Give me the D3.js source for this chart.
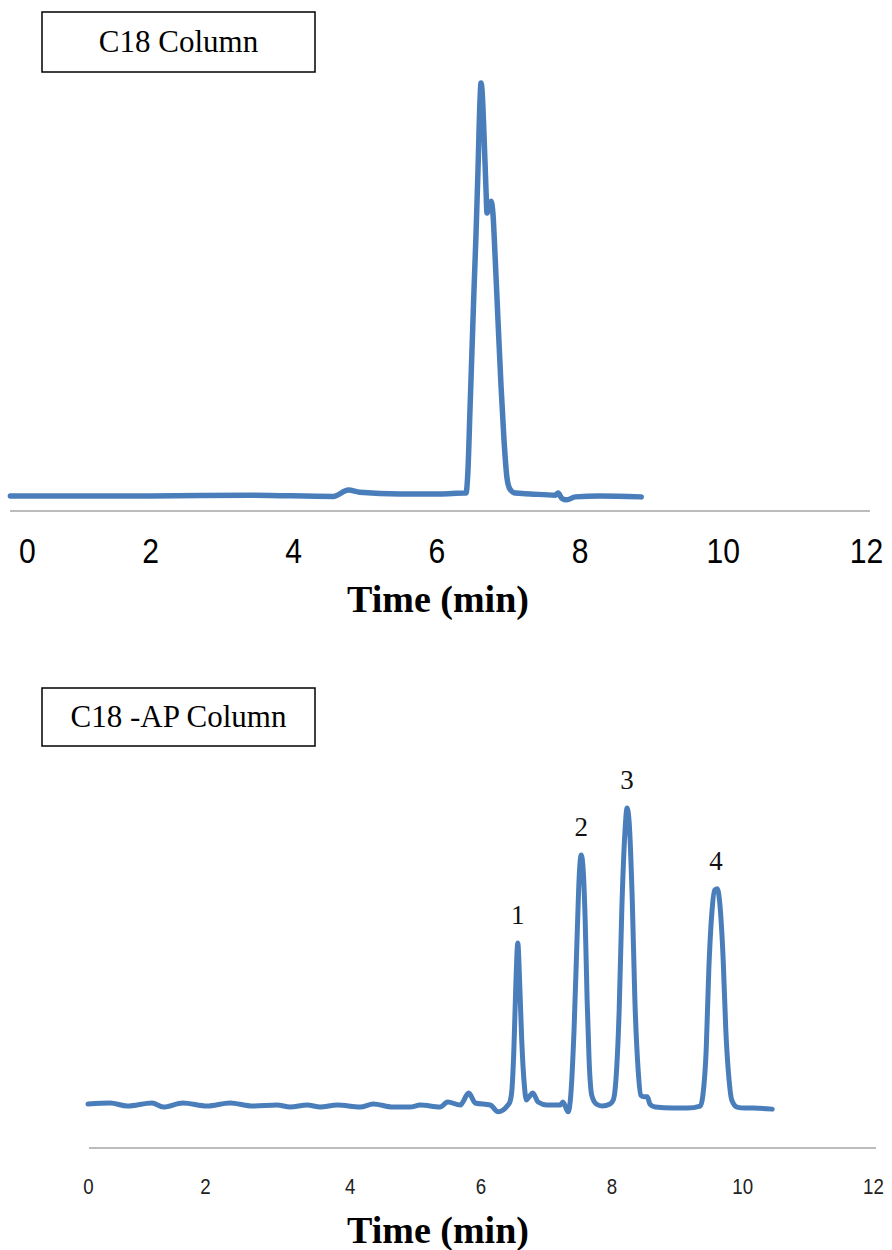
<!DOCTYPE html>
<html>
<head>
<meta charset="utf-8">
<script src="https://cdn.jsdelivr.net/npm/d3@7/dist/d3.min.js"></script>
<style>
  html, body { margin: 0; padding: 0; background: #ffffff; }
  svg { display: block; }
</style>
</head>
<body>
<svg id="chart" width="892" height="1250"></svg>
<script>
// ---------- DATA ----------
const xTicks = [0, 2, 4, 6, 8, 10, 12];

// C18 Column chromatogram (time in min, relative signal)
const c18Time = [0.05, 2.00, 3.40, 4.56, 4.77, 4.93, 5.49, 6.05, 6.39,
  6.413, 6.441, 6.469, 6.497, 6.525, 6.553, 6.581, 6.609, 6.623,
  6.637, 6.665, 6.693, 6.707, 6.735, 6.763, 6.791, 6.819, 6.860, 6.902, 6.944, 6.986, 7.028, 7.098,
  7.31, 7.66, 7.70, 7.75, 7.82, 7.94, 8.28, 8.86];
const c18Signal = [3.5, 3.5, 3.7, 3.4, 4.9, 4.4, 4.0, 4.0, 4.2,
  4.2, 9.6, 23.6, 37.6, 51.6, 64.5, 79.7, 96.0, 100,
  98.4, 87.9, 75.0, 69.6, 70.8, 72.4, 69.2, 59.8, 44.6, 29.4, 16.6, 7.7, 5.1, 4.2,
  4.0, 3.7, 4.2, 3.0, 2.6, 3.3, 3.5, 3.3];

// C18-AP Column chromatogram (time in min, relative signal)
const apTime = [0.00, 0.34, 0.60, 0.98, 1.15, 1.45, 1.82, 2.17, 2.52, 2.89, 3.09, 3.35, 3.55, 3.81,
  4.16, 4.36, 4.66, 4.92, 5.08, 5.38, 5.50, 5.69, 5.82, 5.92, 6.15, 6.27, 6.42,
  6.45, 6.48, 6.51, 6.54, 6.57, 6.60, 6.63, 6.67, 6.70, 6.73, 6.80, 6.88, 7.02, 7.22, 7.26, 7.34,
  7.38, 7.43, 7.48, 7.51, 7.54, 7.57, 7.60, 7.63, 7.66, 7.70, 7.77, 7.86, 7.98,
  8.03, 8.07, 8.12, 8.16, 8.21, 8.24, 8.27, 8.32, 8.36, 8.41, 8.45, 8.50, 8.55, 8.59, 8.67,
  8.94, 9.16, 9.36, 9.40, 9.45, 9.49, 9.54, 9.58, 9.62, 9.66, 9.71, 9.75, 9.80, 9.84, 9.92,
  10.04, 10.17, 10.46];
const apSignal = [12.9, 13.2, 12.3, 13.2, 12.0, 13.2, 12.3, 13.2, 12.3, 12.6, 12.0, 12.6, 12.0, 12.6,
  12.0, 12.9, 12.0, 12.0, 12.6, 12.0, 13.5, 12.6, 16.1, 13.2, 12.6, 10.6, 12.6,
  13.5, 17.0, 28.7, 47.8, 60.1, 47.8, 31.7, 18.5, 14.1, 14.7, 16.1, 13.5, 12.6, 12.6, 13.5, 10.6,
  15.5, 34.6, 63.9, 80.1, 85.9, 81.5, 66.9, 43.4, 25.8, 15.5, 12.9, 12.3, 12.9,
  14.1, 19.9, 40.5, 69.8, 93.3, 99.7, 96.2, 72.7, 43.4, 22.9, 15.5, 15.0, 15.0, 12.9, 12.0,
  11.7, 11.7, 12.3, 15.5, 28.7, 52.2, 69.8, 75.7, 76.0, 71.3, 55.1, 34.6, 19.9, 14.1, 12.0,
  11.7, 11.7, 11.4];

const peakNames = ["1", "2", "3", "4"];
const peakTimes = [6.57, 7.54, 8.24, 9.60];
const peakHeights = [60.1, 85.9, 99.7, 76.0];

const panelTitles = ["C18 Column", "C18 -AP Column"];
const axisTitle = "Time (min)";

// ---------- DRAW ----------
const svg = d3.select("#chart");
const blue = "#4a7ebb";

function drawPanel(cfg) {
  const g = svg.append("g");
  const x = d3.scaleLinear().domain([0, 12]).range(cfg.xRange);
  const y = d3.scaleLinear().domain([0, 100]).range(cfg.yRange);

  // axis baseline (gray)
  g.append("line")
    .attr("x1", cfg.axisX[0]).attr("x2", cfg.axisX[1])
    .attr("y1", cfg.yRange[0]).attr("y2", cfg.yRange[0])
    .attr("stroke", "#a6a6a6").attr("stroke-width", 1.6);

  // tick labels via d3 axis
  const axis = d3.axisBottom(x).tickValues(xTicks).tickSize(0).tickPadding(0)
    .tickFormat(d3.format("d"));
  const ag = g.append("g")
    .attr("transform", `translate(0,${cfg.tickY})`)
    .call(axis);
  ag.select(".domain").remove();
  ag.selectAll(".tick text")
    .attr("y", 0).attr("dy", 0)
    .attr("font-family", "'Liberation Sans', Arial, sans-serif")
    .attr("font-size", cfg.tickSize)
    .attr("fill", cfg.tickColor)
    .attr("transform", d => `translate(${(cfg.nudge[d] || 0)},0) scale(${cfg.tickScaleX},1)`);

  // axis title
  g.append("text")
    .attr("x", 438).attr("y", cfg.titleY)
    .attr("text-anchor", "middle")
    .attr("font-family", "'Liberation Serif', 'Times New Roman', serif")
    .attr("font-weight", "bold")
    .attr("font-size", 38)
    .attr("fill", "#000")
    .text(axisTitle);

  // trace
  const pts = cfg.time.map((t, i) => [t, cfg.signal[i]]);
  const line = d3.line().x(d => x(d[0])).y(d => y(d[1])).curve(d3.curveMonotoneX);
  g.append("path")
    .attr("d", line(pts))
    .attr("fill", "none")
    .attr("stroke", blue)
    .attr("stroke-width", cfg.lineWidth)
    .attr("stroke-linejoin", "round")
    .attr("stroke-linecap", "round");

  // title box
  g.append("rect")
    .attr("x", 42).attr("y", cfg.boxY).attr("width", 273).attr("height", cfg.boxH)
    .attr("fill", "#fff").attr("stroke", "#000").attr("stroke-width", 1.5);
  g.append("text")
    .attr("x", 178.5).attr("y", cfg.boxY + cfg.boxH / 2 + 10)
    .attr("text-anchor", "middle")
    .attr("font-family", "'Liberation Serif', 'Times New Roman', serif")
    .attr("font-size", 31)
    .attr("fill", "#000")
    .text(cfg.title);

  return { x, y, g };
}

drawPanel({
  xRange: [6.8, 866], yRange: [511, 83], axisX: [10, 870],
  tickY: 563, tickSize: 35, tickScaleX: 0.86, tickColor: "#000", nudge: {0: 20},
  titleY: 612, time: c18Time, signal: c18Signal, lineWidth: 5.5,
  boxY: 12, boxH: 60, title: panelTitles[0]
});

const p2 = drawPanel({
  xRange: [88, 873], yRange: [1148, 807], axisX: [89, 876],
  tickY: 1194, tickSize: 22, tickScaleX: 0.85, tickColor: "#222", nudge: {2: -14},
  titleY: 1243, time: apTime, signal: apSignal, lineWidth: 5,
  boxY: 688, boxH: 58, title: panelTitles[1]
});

// peak labels
p2.g.selectAll(".peak")
  .data(peakNames)
  .enter().append("text")
  .attr("class", "peak")
  .attr("x", (d, i) => p2.x(peakTimes[i]))
  .attr("y", (d, i) => p2.y(peakHeights[i]) - 19)
  .attr("text-anchor", "middle")
  .attr("font-family", "'Liberation Serif', 'Times New Roman', serif")
  .attr("font-size", 27)
  .attr("fill", "#111")
  .text(d => d);
</script>
</body>
</html>
